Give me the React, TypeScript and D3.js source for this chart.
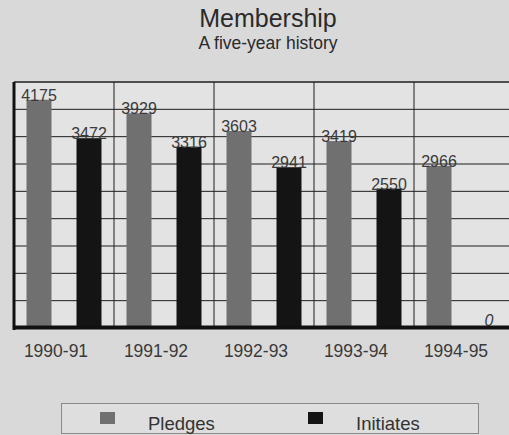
import * as d3 from 'd3'
import { useEffect, useRef } from 'react'

// membership data
const categories = ['1990-91', '1991-92', '1992-93', '1993-94', '1994-95']
const seriesNames = ['Pledges', 'Initiates']
const pledges = [4175, 3929, 3603, 3419, 2966]
const initiates = [3472, 3316, 2941, 2550, 0]
const yTicks = d3.range(0, 4501, 500)

const colors: Record<string, string> = { Pledges: '#707070', Initiates: '#141414' }

export default function App () {
    const svgRef = useRef<SVGSVGElement>(null)
    const width = 509
    const height = 435

    useEffect(() => {
        document.body.style.margin = '0'
        const svg = d3.select(svgRef.current)
        svg.selectAll('*').remove()

        const font = '"Liberation Sans", Arial, sans-serif'
        const left = 14
        const top = 82
        const bottom = 328

        const x0 = d3.scaleBand().domain(categories).range([left, left + 500])
        const x1 = d3.scaleBand().domain(seriesNames)
            .range([0, x0.bandwidth()])
            .paddingInner(0.5)
            .paddingOuter(0.25)
        const y = d3.scaleLinear().domain([0, 4500]).range([bottom, top])

        const rows = categories.map((c, i) => ({ cat: c, Pledges: pledges[i], Initiates: initiates[i] }))

        // background
        svg.append('rect').attr('width', width).attr('height', height).attr('fill', '#d9d9d9')
        svg.append('rect')
            .attr('x', left).attr('y', top)
            .attr('width', width - left).attr('height', bottom - top)
            .attr('fill', '#e3e3e3')

        // title
        svg.append('text')
            .attr('x', 268).attr('y', 27)
            .attr('text-anchor', 'middle')
            .attr('font-family', font).attr('font-size', 25)
            .attr('fill', '#2a2a2a')
            .text('Membership')
        svg.append('text')
            .attr('x', 268).attr('y', 49)
            .attr('text-anchor', 'middle')
            .attr('font-family', font).attr('font-size', 17.5)
            .attr('fill', '#2a2a2a')
            .text('A five-year history')

        const grid = svg.append('g')
        // horizontal grid lines
        grid.selectAll('line.h')
            .data(yTicks)
            .join('line')
            .attr('class', 'h')
            .attr('x1', left).attr('x2', width)
            .attr('y1', (d) => y(d)).attr('y2', (d) => y(d))
            .attr('stroke', '#1e1e1e')
            .attr('stroke-width', (d) => d === 4500 ? 1.5 : 1)
        // vertical grid lines at category boundaries
        grid.selectAll('line.v')
            .data(categories.slice(1))
            .join('line')
            .attr('class', 'v')
            .attr('x1', (d) => x0(d)!).attr('x2', (d) => x0(d)!)
            .attr('y1', top).attr('y2', bottom)
            .attr('stroke', '#1e1e1e')
            .attr('stroke-width', 1)

        // bars
        const groups = svg.append('g')
            .selectAll('g')
            .data(rows)
            .join('g')
            .attr('transform', (d) => `translate(${x0(d.cat)},0)`)

        groups.selectAll('rect')
            .data((d) => seriesNames.map((s) => ({ key: s, value: (d as any)[s] as number })))
            .join('rect')
            .attr('x', (d) => x1(d.key)!)
            .attr('y', (d) => y(d.value))
            .attr('width', x1.bandwidth())
            .attr('height', (d) => bottom - y(d.value))
            .attr('fill', (d) => colors[d.key])

        groups.selectAll('text')
            .data((d) => seriesNames.map((s) => ({ key: s, value: (d as any)[s] as number })))
            .join('text')
            .attr('x', (d) => x1(d.key)! + x1.bandwidth() / 2)
            .attr('y', (d) => y(d.value) + (d.value === 0 ? -2 : 1))
            .attr('text-anchor', 'middle')
            .attr('font-family', font)
            .attr('font-size', 16)
            .attr('font-style', (d) => d.value === 0 ? 'italic' : 'normal')
            .attr('fill', '#3a3a3a')
            .text((d) => d.value)

        // axes lines
        svg.append('line')
            .attr('x1', left).attr('x2', left)
            .attr('y1', top).attr('y2', bottom + 2)
            .attr('stroke', '#111').attr('stroke-width', 3)
        svg.append('line')
            .attr('x1', left - 1).attr('x2', width)
            .attr('y1', bottom - 0.5).attr('y2', bottom - 0.5)
            .attr('stroke', '#111').attr('stroke-width', 4)

        // category labels
        svg.append('g')
            .selectAll('text')
            .data(categories)
            .join('text')
            .attr('x', (d) => x0(d)! + x0.bandwidth() / 2 - 8)
            .attr('y', 357)
            .attr('text-anchor', 'middle')
            .attr('font-family', font)
            .attr('font-size', 17.5)
            .attr('fill', '#3a3a3a')
            .text((d) => d)

        // legend
        const legend = svg.append('g')
        legend.append('rect')
            .attr('x', 61.5).attr('y', 403.5)
            .attr('width', 417).attr('height', 30)
            .attr('fill', '#dedede')
            .attr('stroke', '#8a8a8a')
        const legendX = [100, 308]
        seriesNames.forEach((s, i) => {
            legend.append('rect')
                .attr('x', legendX[i]).attr('y', 412)
                .attr('width', 15).attr('height', 12)
                .attr('fill', colors[s])
            legend.append('text')
                .attr('x', legendX[i] + 48).attr('y', 430)
                .attr('font-family', font)
                .attr('font-size', 18.5)
                .attr('fill', '#333')
                .text(s)
        })
    }, [])

    return (
        <svg ref={svgRef} width={width} height={height} style={{ display: 'block' }}></svg>
    )
}
